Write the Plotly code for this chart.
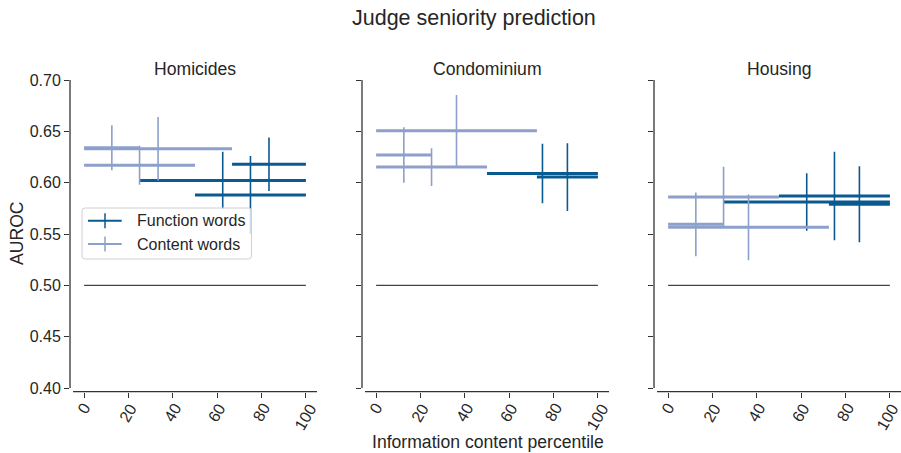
import plotly.graph_objects as go

# ---- data: AUROC per information-content percentile bin ----
PANELS = ["Homicides", "Condominium", "Housing"]

# function words: bin edges (percentile), AUROC and CI half-width
FUNC_LO = [[25, 50, 66.7], [50, 72.5], [25, 50, 72.5]]
FUNC_HI = [[100, 100, 100], [100, 100], [100, 100, 100]]
FUNC_AUROC = [[0.602, 0.588, 0.618], [0.609, 0.6055], [0.5812, 0.587, 0.579]]
FUNC_CI = [[0.028, 0.038, 0.026], [0.029, 0.033], [0.028, 0.043, 0.037]]

# content words
CONT_LO = [[0, 0, 0], [0, 0, 0], [0, 0, 0]]
CONT_HI = [[25, 50, 66.7], [25, 50, 72.5], [25, 50, 72.5]]
CONT_AUROC = [[0.634, 0.617, 0.633], [0.627, 0.6152, 0.6505], [0.5594, 0.586, 0.5565]]
CONT_CI = [[0.022, 0.019, 0.031], [0.027, 0.0184, 0.035], [0.031, 0.0295, 0.032]]

CHANCE = 0.5
X_TICKS = [0, 20, 40, 60, 80, 100]
Y_TICKS = [0.40, 0.45, 0.50, 0.55, 0.60, 0.65, 0.70]

FUNC_COLOR = "#0a5a92"
CONT_COLOR = "#8da0cb"
INK = "#262626"
SPINE = "#333333"
FONT = "Liberation Sans, Arial, sans-serif"

W, H = 901, 453


def fx(p):
    return p / W


def fy(p):
    return 1 - p / H


fig = go.Figure()

# panel geometry (pixels)
LEFT = [70, 362, 654]
RIGHT = [317, 609, 901]
TOP, BOTTOM = 80, 391.7
X_RANGE = [-6.36, 105.0]
Y_RANGE = [0.3964, 0.70]

shapes = []
annotations = []

for i, name in enumerate(PANELS):
    sfx = "" if i == 0 else str(i + 1)
    xref, yref = "x" + sfx, "y" + sfx

    # chance level
    fig.add_trace(go.Scatter(
        x=[0, 100], y=[CHANCE, CHANCE], mode="lines",
        line=dict(color="#444444", width=1.3),
        xaxis=xref, yaxis=yref, hoverinfo="skip", showlegend=False))

    for lo, hi, auc, ci, col in (
        (FUNC_LO[i], FUNC_HI[i], FUNC_AUROC[i], FUNC_CI[i], FUNC_COLOR),
        (CONT_LO[i], CONT_HI[i], CONT_AUROC[i], CONT_CI[i], CONT_COLOR),
    ):
        centers = [(a + b) / 2 for a, b in zip(lo, hi)]
        halfw = [(b - a) / 2 for a, b in zip(lo, hi)]
        fig.add_trace(go.Scatter(
            x=centers, y=auc, mode="markers",
            marker=dict(size=1, opacity=0, color=col),
            error_x=dict(type="data", array=halfw, width=0, thickness=3, color=col),
            error_y=dict(type="data", array=ci, width=0, thickness=1.6, color=col),
            xaxis=xref, yaxis=yref, showlegend=False))

    fig.layout["xaxis" + sfx] = dict(
        domain=[fx(LEFT[i]), fx(RIGHT[i])], range=X_RANGE, anchor=yref,
        tickvals=X_TICKS, showticklabels=False, ticks="outside", ticklen=5,
        tickwidth=1.25, tickcolor=SPINE, showline=False, showgrid=False,
        zeroline=False, automargin=False)
    fig.layout["yaxis" + sfx] = dict(
        domain=[fy(BOTTOM), fy(TOP)], range=Y_RANGE, anchor=xref,
        tickvals=Y_TICKS, tickformat=".2f", showticklabels=(i == 0),
        ticks="outside", ticklen=5, tickwidth=1.25, tickcolor=SPINE,
        tickfont=dict(size=16, color=INK, family=FONT),
        showline=False, showgrid=False, zeroline=False, automargin=False)

    # trimmed spines
    shapes.append(dict(type="line", xref=xref + " domain", yref=yref,
                       x0=0, x1=0, y0=Y_TICKS[0], y1=Y_TICKS[-1],
                       line=dict(color=SPINE, width=1.3)))
    shapes.append(dict(type="line", xref=xref, yref=yref + " domain",
                       x0=-5, x1=105, y0=0, y1=0,
                       line=dict(color=SPINE, width=1.3)))

    # rotated x tick labels
    for t in X_TICKS:
        annotations.append(dict(
            x=t, xref=xref, y=fy(398), yref="paper", text=str(t),
            textangle=-60, xanchor="center", yanchor="top", showarrow=False,
            xshift=-2 if (i == 2 and t == 100) else 0,
            font=dict(size=16, color=INK, family=FONT)))

    # panel title
    annotations.append(dict(
        x=fx((LEFT[i] + 3 + RIGHT[i]) / 2), y=fy(69), xref="paper", yref="paper",
        text=name, showarrow=False, xanchor="center", yanchor="middle",
        font=dict(size=17.6, color=INK, family=FONT)))

# figure title and axis labels
annotations.append(dict(
    x=fx(474), y=fy(18), xref="paper", yref="paper",
    text="Judge seniority prediction", showarrow=False,
    xanchor="center", yanchor="middle",
    font=dict(size=21.5, color=INK, family=FONT)))
annotations.append(dict(
    x=fx(487.5), y=fy(442), xref="paper", yref="paper",
    text="Information content percentile", showarrow=False,
    xanchor="center", yanchor="middle",
    font=dict(size=17.6, color=INK, family=FONT)))
annotations.append(dict(
    x=fx(17), y=fy(233), xref="paper", yref="paper", text="AUROC",
    textangle=-90, showarrow=False, xanchor="center", yanchor="middle",
    font=dict(size=17.6, color=INK, family=FONT)))

# legend box (first panel)
lx0, ly0, lx1, ly1, r = 82, 208, 251.5, 259, 3
path = (f"M {fx(lx0 + r)} {fy(ly0)} L {fx(lx1 - r)} {fy(ly0)} "
        f"Q {fx(lx1)} {fy(ly0)} {fx(lx1)} {fy(ly0 + r)} "
        f"L {fx(lx1)} {fy(ly1 - r)} Q {fx(lx1)} {fy(ly1)} {fx(lx1 - r)} {fy(ly1)} "
        f"L {fx(lx0 + r)} {fy(ly1)} Q {fx(lx0)} {fy(ly1)} {fx(lx0)} {fy(ly1 - r)} "
        f"L {fx(lx0)} {fy(ly0 + r)} Q {fx(lx0)} {fy(ly0)} {fx(lx0 + r)} {fy(ly0)} Z")
shapes.append(dict(type="path", xref="paper", yref="paper", path=path,
                   line=dict(color="#d0d0d0", width=1),
                   fillcolor="rgba(255,255,255,0.8)"))
for label, col, yc in (("Function words", FUNC_COLOR, 220.7),
                       ("Content words", CONT_COLOR, 244.0)):
    shapes.append(dict(type="line", xref="paper", yref="paper",
                       x0=fx(88), x1=fx(121.7), y0=fy(yc), y1=fy(yc),
                       line=dict(color=col, width=2)))
    shapes.append(dict(type="line", xref="paper", yref="paper",
                       x0=fx(105), x1=fx(105), y0=fy(yc - 7.5), y1=fy(yc + 7.5),
                       line=dict(color=col, width=1.5)))
    annotations.append(dict(
        x=fx(135), y=fy(yc), xref="paper", yref="paper", text=label,
        showarrow=False, xanchor="left", yanchor="middle",
        font=dict(size=16, color=INK, family=FONT)))

fig.update_layout(
    width=W, height=H, margin=dict(l=0, r=0, t=0, b=0, autoexpand=False),
    paper_bgcolor="white", plot_bgcolor="white", showlegend=False,
    font=dict(family=FONT, color=INK),
    shapes=shapes, annotations=annotations)

fig.write_html("out.html")
